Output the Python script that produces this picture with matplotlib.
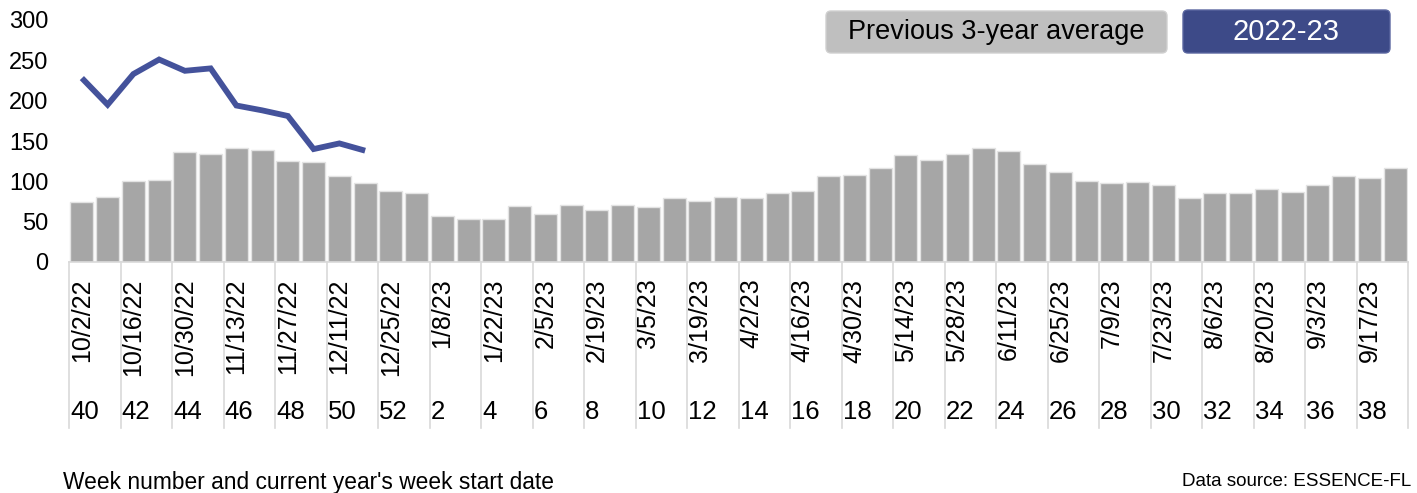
import matplotlib.pyplot as plt
import matplotlib.transforms as mtransforms
from matplotlib.patches import FancyBboxPatch

#%% data

weeks = [40, 41, 42, 43, 44, 45, 46, 47, 48, 49, 50, 51, 52] + list(range(1, 40))
dates = ['10/2/22', '10/16/22', '10/30/22', '11/13/22', '11/27/22', '12/11/22', '12/25/22',
         '1/8/23', '1/22/23', '2/5/23', '2/19/23', '3/5/23', '3/19/23', '4/2/23', '4/16/23',
         '4/30/23', '5/14/23', '5/28/23', '6/11/23', '6/25/23', '7/9/23', '7/23/23',
         '8/6/23', '8/20/23', '9/3/23', '9/17/23']

prev_avg = [74, 81, 100, 102, 136, 134, 141, 139, 125, 124, 107, 98, 88, 85, 57, 53,
            53, 70, 60, 71, 65, 71, 68, 79, 76, 80, 79, 86, 88, 106, 108, 117, 133, 126,
            134, 141, 138, 122, 112, 100, 98, 99, 96, 79, 86, 85, 91, 87, 96, 107, 104, 117]

current = [228, 195, 233, 251, 237, 240, 194, 188, 181, 140, 147, 138]

#%% figure

W, H = 1417, 493
fig = plt.figure(figsize=(W / 100, H / 100), dpi=100)
ax = fig.add_axes([69 / W, 1 - 262 / H, (1408 - 69) / W, (262 - 20) / H])

x = list(range(len(prev_avg)))
ax.bar(x, prev_avg, width=0.9, color='#A6A6A6', edgecolor='#E3E3E3', linewidth=1, zorder=2)
ax.plot(list(range(len(current))), current, color='#44529B', linewidth=4.2,
        solid_joinstyle='miter', solid_capstyle='butt', zorder=3)

ax.set_xlim(-0.5, len(prev_avg) - 0.5)
ax.set_ylim(0, 300)
ax.set_yticks(range(0, 301, 50))
ax.tick_params(axis='y', length=0, pad=15, labelsize=17)
for lab in ax.get_yticklabels():
    lab.set_fontfamily('Liberation Sans')

for s in ['left', 'right', 'top']:
    ax.spines[s].set_visible(False)
ax.spines['bottom'].set_color('#D9D9D9')
ax.spines['bottom'].set_linewidth(1.2)

# date labels (every second week)
ax.set_xticks(range(0, len(prev_avg), 2))
ax.set_xticklabels(dates, rotation=90, fontsize=18, family='Liberation Sans', va='top')
ax.tick_params(axis='x', length=0, pad=12)

# separators and week numbers
trans = mtransforms.blended_transform_factory(ax.transData, ax.transAxes)
for i in range(0, len(prev_avg) + 1, 2):
    ax.plot([i - 0.5, i - 0.5], [0, -0.686], color='#D9D9D9', linewidth=1.2,
            transform=trans, clip_on=False)
for i in range(0, len(weeks), 2):
    ax.text(i - 0.46, -0.62, str(weeks[i]), transform=trans, fontsize=18.5,
            family='Liberation Sans', ha='left', va='center')

# legend boxes
px = mtransforms.IdentityTransform()
fig.patches.append(FancyBboxPatch((826, H - 53), 341, 42, boxstyle='round,pad=0,rounding_size=5',
                                  facecolor='#BFBFBF', edgecolor='#D0D0D0', transform=px))
fig.patches.append(FancyBboxPatch((1183, H - 53), 207, 43, boxstyle='round,pad=0,rounding_size=5',
                                  facecolor='#3D4A88', edgecolor='#5A66A0', transform=px))
fig.text(996.5 / W, 1 - 32 / H, 'Previous 3-year average', ha='center', va='center',
         fontsize=19.5, family='Liberation Sans', color='black')
fig.text(1286.5 / W, 1 - 32 / H, '2022-23', ha='center', va='center',
         fontsize=21, family='Liberation Sans', color='white')

fig.text(63 / W, 1 - 483 / H, "Week number and current year's week start date", ha='left',
         va='center', fontsize=16.4, family='Liberation Sans')
fig.text(1411 / W, 1 - 481 / H, 'Data source: ESSENCE-FL', ha='right', va='center',
         fontsize=13.5, family='Liberation Sans')

fig.savefig('out.png', dpi=100)
